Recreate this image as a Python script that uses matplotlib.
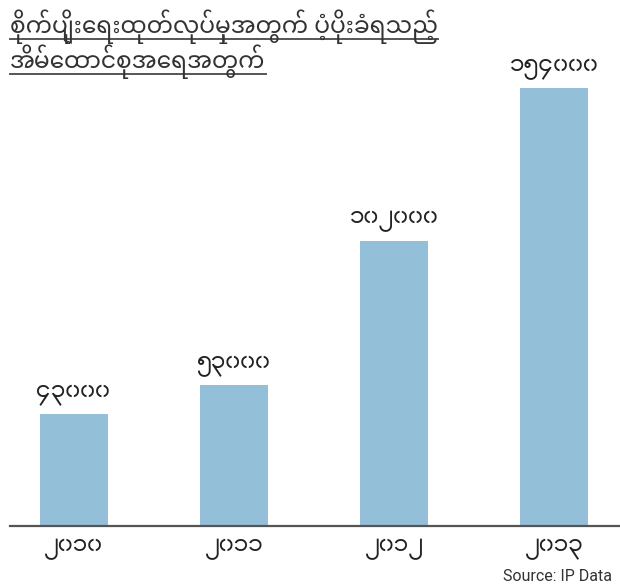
import re

import matplotlib

matplotlib.use("Agg")
import matplotlib.pyplot as plt
from matplotlib.lines import Line2D

TITLE_FONT = ["Noto Sans Myanmar", "DejaVu Sans"]
DIGIT_FONT = ["TharLon", "Noto Sans Myanmar", "DejaVu Sans"]

title_lines = [
    "စိုက်ပျိုးရေးထုတ်လုပ်မှုအတွက် ပံ့ပိုးခံရသည့်",
    "အိမ်ထောင်စုအရေအတွက်",
]
years = ["၂၀၁၀", "၂၀၁၁", "၂၀၁၂", "၂၀၁၃"]
households = [43000, 53000, 102000, 154000]
value_labels = ["၄၃၀၀၀", "၅၃၀၀၀", "၁၀၂၀၀၀", "၁၅၄၀၀၀"]
source = "Source: IP Data"

BAR_COLOR = "#94bfd9"
TEXT_COLOR = "#222222"


def visual(s: str) -> str:
    # matplotlib has no complex shaping: put ေ in front of its consonant by hand
    return re.sub(r"([\u1000-\u102A\u103F\u104E])([\u103B-\u103E]*)\u1031", "\u1031\\1\\2", s)


fig = plt.figure(figsize=(6.2, 5.85), dpi=100)
W, H = 620, 585

ax = fig.add_axes([10 / W, (H - 526) / H, 610 / W, (526 - 40) / H])
x = list(range(len(years)))
bars = ax.bar(x, households, width=0.425, color=BAR_COLOR)
ax.set_xlim(-0.4, 3.41)
ax.set_ylim(5000, 170300)

for rect, lab in zip(bars, value_labels):
    ax.annotate(
        visual(lab),
        (rect.get_x() + rect.get_width() / 2, rect.get_height()),
        xytext=(0, 6),
        textcoords="offset points",
        ha="center",
        va="bottom",
        family=DIGIT_FONT,
        fontsize=16,
        color=TEXT_COLOR,
    )

for side in ["top", "left", "right"]:
    ax.spines[side].set_visible(False)
ax.spines["bottom"].set_color("#555555")
ax.spines["bottom"].set_linewidth(1.6)
ax.set_yticks([])
ax.set_xticks(x)
ax.set_xticklabels([visual(y) for y in years], family=DIGIT_FONT, fontsize=16, color=TEXT_COLOR)
ax.tick_params(axis="x", length=0, pad=9)

title_y = [33, 68]
title_texts = []
for line, ty in zip(title_lines, title_y):
    t = fig.text(10 / W, 1 - ty / H, visual(line), family=TITLE_FONT, fontsize=16.8,
                 color="#333333", ha="left", va="baseline")
    title_texts.append(t)

fig.text(612 / W, 1 - 581 / H, source, family=["Roboto", "DejaVu Sans"], fontsize=11.5,
         color="#333333", ha="right", va="baseline")

# underline the title lines
fig.canvas.draw()
renderer = fig.canvas.get_renderer()
for t, ty in zip(title_texts, title_y):
    bb = t.get_window_extent(renderer)
    uy = 1 - (ty + 6) / H
    fig.add_artist(Line2D([10 / W, bb.x1 / W], [uy, uy], transform=fig.transFigure,
                          color="#555555", linewidth=1.4))

fig.savefig("out.png", dpi=100)
